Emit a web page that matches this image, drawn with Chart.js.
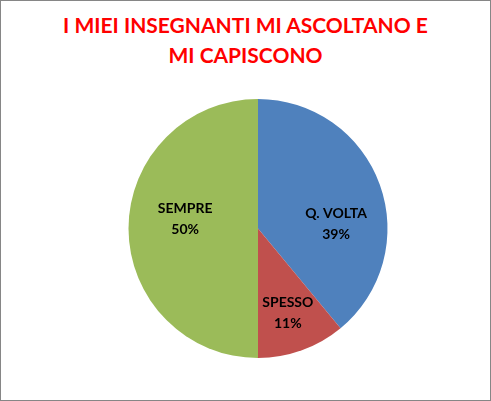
<!DOCTYPE html>
<html>
<head>
<meta charset="utf-8">
<script src="https://cdn.jsdelivr.net/npm/chart.js@4"></script>
<style>
  html, body { margin: 0; padding: 0; background: #fff; }
  #frame { position: relative; width: 491px; height: 401px; box-sizing: border-box; border: 1px solid #868686; overflow: hidden; }
  #titolo { position: absolute; left: 0; top: 9px; width: 489px; text-align: center; color: #ff0000;
            font: bold 21px Lato, sans-serif; line-height: 30px; }
  #box { position: absolute; left: 24px; top: -1px; width: 466px; height: 401px; }
</style>
</head>
<body>
<div id="frame">
  <div id="titolo">I MIEI INSEGNANTI MI ASCOLTANO E<br>MI CAPISCONO</div>
  <div id="box"><canvas id="torta"></canvas></div>
</div>
<script>
const categorie = ['Q. VOLTA', 'SPESSO', 'SEMPRE'];
const percentuali = [39, 11, 50];
const colori = ['#4F81BD', '#C0504D', '#9BBB59'];

// etichette dentro le fette (nome + percentuale)
const etichettePlugin = {
  id: 'etichette',
  afterDatasetsDraw(chart, args, opts) {
    const ctx = chart.ctx;
    const meta = chart.getDatasetMeta(0);
    ctx.save();
    ctx.fillStyle = '#000';
    ctx.font = 'bold 14px Lato, sans-serif';
    ctx.textAlign = 'center';
    ctx.textBaseline = 'middle';
    meta.data.forEach((arc, i) => {
      const p = arc.getProps(['x', 'y', 'startAngle', 'endAngle', 'outerRadius'], true);
      const mid = (p.startAngle + p.endAngle) / 2;
      const r = p.outerRadius * opts.raggio[i];
      const x = p.x + Math.cos(mid) * r + opts.sposta[i][0];
      const y = p.y + Math.sin(mid) * r + opts.sposta[i][1];
      ctx.fillText(categorie[i], x, y - 10);
      ctx.fillText(percentuali[i] + '%', x, y + 11);
    });
    ctx.restore();
  }
};

new Chart(document.getElementById('torta').getContext('2d'), {
  type: 'pie',
  data: {
    labels: categorie,
    datasets: [{
      data: percentuali,
      backgroundColor: colori,
      borderWidth: 0
    }]
  },
  options: {
    responsive: true,
    maintainAspectRatio: false,
    animation: false,
    layout: { padding: { top: 99, bottom: 43, left: 0, right: 0 } },
    plugins: {
      legend: { display: false },
      tooltip: { enabled: false },
      etichette: { raggio: [0.6, 0.68, 0.57], sposta: [[5, 21], [0, 1], [1, -10]] }
    }
  },
  plugins: [etichettePlugin]
});
</script>
</body>
</html>
